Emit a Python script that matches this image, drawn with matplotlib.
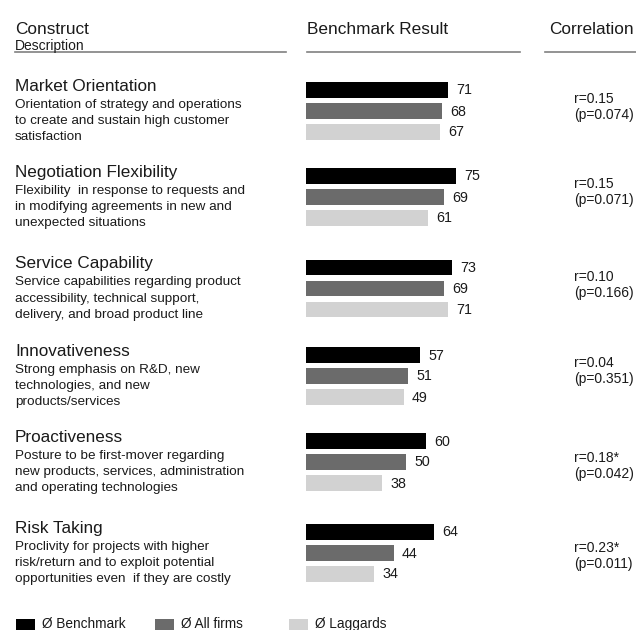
import matplotlib
matplotlib.use("Agg")
import matplotlib.pyplot as plt
from matplotlib.patches import Rectangle
from matplotlib.lines import Line2D

# ---------------- data ----------------
constructs = ["Market Orientation", "Negotiation Flexibility", "Service Capability",
              "Innovativeness", "Proactiveness", "Risk Taking"]
descriptions = [
    ["Orientation of strategy and operations", "to create and sustain high customer", "satisfaction"],
    ["Flexibility  in response to requests and", "in modifying agreements in new and", "unexpected situations"],
    ["Service capabilities regarding product", "accessibility, technical support,", "delivery, and broad product line"],
    ["Strong emphasis on R&D, new", "technologies, and new", "products/services"],
    ["Posture to be first-mover regarding", "new products, services, administration", "and operating technologies"],
    ["Proclivity for projects with higher", "risk/return and to exploit potential", "opportunities even  if they are costly"],
]
benchmark = [71, 75, 73, 57, 60, 64]
all_firms = [68, 69, 69, 51, 50, 44]
laggards = [67, 61, 71, 49, 38, 34]
series_names = ["Ø Benchmark", "Ø All firms", "Ø Laggards"]
r_labels = ["r=0.15", "r=0.15", "r=0.10", "r=0.04", "r=0.18*", "r=0.23*"]
p_labels = ["(p=0.074)", "(p=0.071)", "(p=0.166)", "(p=0.351)", "(p=0.042)", "(p=0.011)"]

# ---------------- layout (pixels) ----------------
W, H = 636, 630
group_y = [90, 176, 267.5, 355, 441, 532]      # centre of first bar in each group
r_base = [103, 188, 281, 367, 462, 552]        # baseline of correlation text
bar_step = 21
bar_h = 15.5
colors = ["#000000", "#6b6b6b", "#d2d2d2"]
FONT = "Liberation Sans"
TXT = "#1a1a1a"

fig = plt.figure(figsize=(W / 100, H / 100), dpi=100)
fig.patch.set_facecolor("white")


def fx(x):
    return x / W


def fy(y):
    return 1 - y / H


def ftext(x, y, s, size, **kw):
    fig.text(fx(x), fy(y), s, fontsize=size, family=FONT, color=TXT,
             va="baseline", ha="left", **kw)


# bar axes: x=0 at pixel 306, 2 px per unit; y in pixel units (inverted)
x0 = 306
ax = fig.add_axes([fx(x0), 0, (W - x0) / W, 1])
ax.set_xlim(0, (W - x0) / 2)
ax.set_ylim(H, 0)
ax.axis("off")

series = [benchmark, all_firms, laggards]
for j, vals in enumerate(series):
    ys = [gy + j * bar_step for gy in group_y]
    ax.barh(ys, vals, height=bar_h, color=colors[j], edgecolor="none")
    for y, v in zip(ys, vals):
        ax.text(v + 4, y + 0.5, str(v), fontsize=10.3, family=FONT, color=TXT,
                va="center", ha="left")

# headers
ftext(15, 34, "Construct", 12.4)
ftext(15, 50, "Description", 10)
ftext(307, 34, "Benchmark Result", 12.4)
ftext(549, 34, "Correlation", 12.4)
for xa, xb in [(15, 286), (307, 520), (545, 636)]:
    fig.add_artist(Line2D([fx(xa), fx(xb)], [fy(51.7), fy(51.7)],
                          color="#808080", lw=1.2, transform=fig.transFigure))

# constructs + descriptions
for i, (name, desc) in enumerate(zip(constructs, descriptions)):
    gy = group_y[i]
    ftext(15, gy + 0.7, name, 12.3)
    for k, line in enumerate(desc):
        ftext(15, gy + 17.7 + k * 16.3, line, 9.7)
    ftext(574, r_base[i], r_labels[i], 10)
    ftext(574, r_base[i] + 16, p_labels[i], 10)

# legend
leg_x = [16, 155, 289]
for j, name in enumerate(series_names):
    fig.add_artist(Rectangle((fx(leg_x[j]), fy(631)), 19 / W, 12 / H,
                             facecolor=colors[j], edgecolor="none",
                             transform=fig.transFigure))
    ftext(leg_x[j] + 26, 628, name, 9.8)

fig.savefig("out.png", dpi=100, facecolor="white")
